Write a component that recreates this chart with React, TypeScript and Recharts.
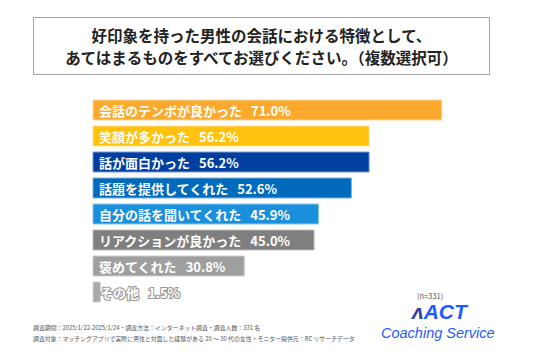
import React from "react";
import { Bar, BarChart, Cell, LabelList, XAxis, YAxis } from "recharts";

const categories = [
  "会話のテンポが良かった",
  "笑顔が多かった",
  "話が面白かった",
  "話題を提供してくれた",
  "自分の話を聞いてくれた",
  "リアクションが良かった",
  "褒めてくれた",
  "その他",
];
const shares = [71.0, 56.2, 56.2, 52.6, 45.9, 45.0, 30.8, 1.5];
const barColors = ["#FBAA2E", "#FFC20E", "#003FA0", "#006BBC", "#1A8FDC", "#7F7F7F", "#9F9F9F", "#A8A8A8"];
const edgeColors = ["#FCD49A", "#FFE08A", "#7A9BD0", "#7FB2DC", "#8CC5EC", "#BDBDBD", "#CFCFCF", "#D0D0D0"];

const data = categories.map((name, i) => ({ name, value: shares[i] }));

const font = "'Noto Sans CJK JP', 'Noto Sans', sans-serif";

function BarLabel(props: any) {
  const { x, y, height, index, value } = props;
  const last = index === categories.length - 1;
  return (
    <text
      x={x + (last ? 7 : 6)}
      y={y + height / 2}
      dominantBaseline="central"
      fontFamily={font}
      fontWeight={700}
      fontSize={13}
      fill="#ffffff"
      stroke={last ? "#9a9a9a" : "none"}
      strokeWidth={last ? 2.2 : 0}
      paintOrder="stroke"
    >
      <tspan>{categories[index]}</tspan>
      <tspan dx={9}>{`${Number(value).toFixed(1)}%`}</tspan>
    </text>
  );
}

export default function App() {
  return (
    <div style={{ position: "absolute", left: 0, top: 0, width: 536, height: 357, background: "#fff", fontFamily: font }}>
      <div
        style={{
          position: "absolute",
          left: 33,
          top: 17,
          width: 455,
          height: 56,
          border: "1.5px solid #a6a6a6",
          display: "flex",
          flexDirection: "column",
          alignItems: "center",
          justifyContent: "center",
          fontWeight: 700,
          fontSize: 15.5,
          lineHeight: "22px",
          color: "#222",
        }}
      >
        <div>好印象を持った男性の会話における特徴として、</div>
        <div>あてはまるものをすべてお選びください。（複数選択可）</div>
      </div>
      <div style={{ position: "absolute", left: 0, top: 0 }}>
        <BarChart
          width={536}
          height={357}
          data={data}
          layout="vertical"
          margin={{ top: 97, right: 50, bottom: 52, left: 93 }}
          barCategoryGap={6}
        >
          <XAxis type="number" domain={[0, 80]} hide />
          <YAxis type="category" dataKey="name" hide />
          <Bar dataKey="value" barSize={20} isAnimationActive={false}>
            {data.map((d, i) => (
              <Cell key={d.name} fill={barColors[i]} stroke={edgeColors[i]} strokeWidth={1} />
            ))}
            <LabelList dataKey="value" content={<BarLabel />} />
          </Bar>
        </BarChart>
      </div>
      <div style={{ position: "absolute", left: 417, top: 290, fontSize: 7.5, color: "#555" }}>(n=331)</div>
      <div style={{ position: "absolute", left: 33, top: 322, fontSize: 5.9, color: "#555", lineHeight: "11px", whiteSpace: "nowrap" }}>
        <div>調査期間：2025/1/22-2025/1/24・調査方法：インターネット調査・調査人数：331 名</div>
        <div>調査対象：マッチングアプリで実際に男性と対面した経験がある 20 〜 30 代の女性・モニター提供元：RC リサーチデータ</div>
      </div>
      <div
        style={{
          position: "absolute",
          left: 412,
          top: 300,
          fontFamily: "'Liberation Sans', Arial, sans-serif",
          fontStyle: "italic",
          fontWeight: 700,
          fontSize: 21,
          color: "#1F5BFF",
          lineHeight: "24px",
        }}
      >
        <span style={{ color: "#3a3aa8" }}>ʌ</span>ACT
      </div>
      <div
        style={{
          position: "absolute",
          left: 381,
          top: 325,
          fontFamily: "'Liberation Sans', Arial, sans-serif",
          fontStyle: "italic",
          fontSize: 14.5,
          color: "#1F5BFF",
          lineHeight: "17px",
          whiteSpace: "nowrap",
        }}
      >
        Coaching Service
      </div>
    </div>
  );
}
